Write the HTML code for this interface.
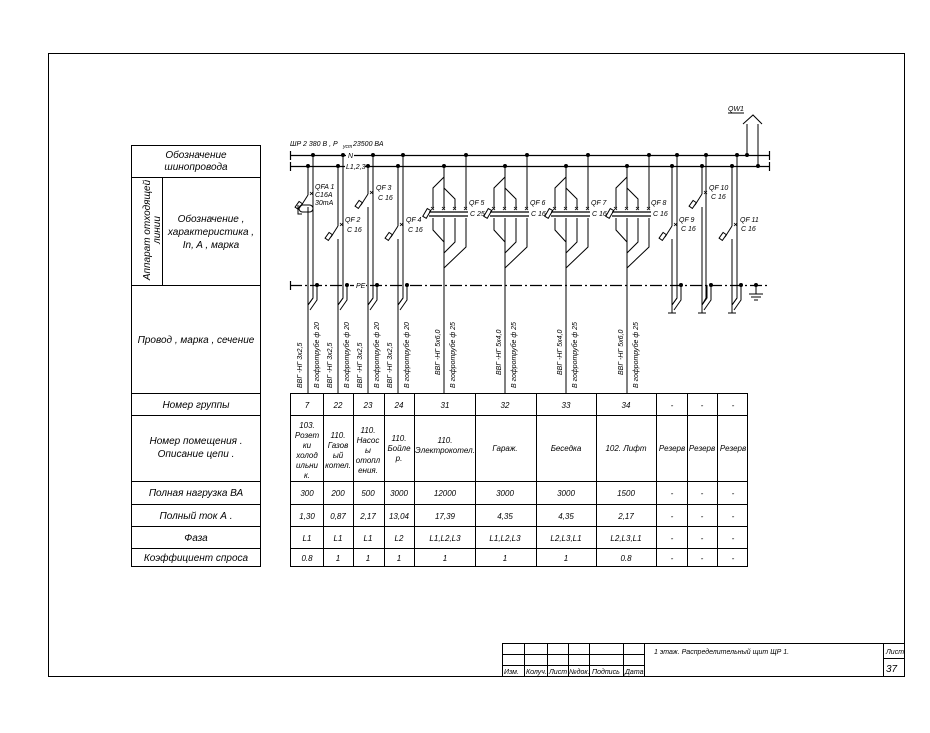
<!DOCTYPE html>
<html><head><meta charset="utf-8"><style>
html,body{margin:0;padding:0;background:#fff;}
svg{display:block;}
text{font-family:"Liberation Sans",sans-serif;font-style:italic;fill:#000;}
</style></head><body>
<svg width="930" height="733" viewBox="0 0 930 733" xmlns="http://www.w3.org/2000/svg">
<defs>
<g id="tp" fill="none" stroke="#000" stroke-width="1">
  <circle cx="0" cy="166" r="1.5" fill="#000"/>
  <circle cx="22" cy="155" r="1.5" fill="#000"/>
  <path d="M0 166V177L-11 188V209M0 188L11 199V209M0 166V209M22 155V209"/>
  <path d="M-11 218V230L0 242M11 218V242L0 253M22 218V247L0 268M0 218V393"/>
  <path d="M-15 212H24M-15 216H24" stroke-width="1.2"/>
  <rect x="-19" y="209" width="4" height="9" transform="rotate(30 -17 213)"/>
  <path d="M-13 207l3 3M-10 207l-3 3M-2 207l3 3M1 207l-3 3M9 207l3 3M12 207l-3 3M20 207l3 3M23 207l-3 3" stroke-width="0.8"/>
</g>
<g id="sp" fill="none" stroke="#000" stroke-width="1">
  <path d="M0 0l-7 11"/>
  <rect x="-11" y="7" width="4" height="7" transform="rotate(35 -9 10)"/>
  <path d="M2 -3l3 3M5 -3l-3 3" stroke-width="0.8"/>
</g>
<g id="pebend" fill="none" stroke="#000" stroke-width="1">
  <circle cx="9" cy="285" r="1.5" fill="#000"/>
  <path d="M5 285V298L0 305M9 285V300L2 310"/>
</g>
</defs>
<!-- frame -->
<rect x="48.5" y="53.5" width="856" height="623" fill="none" stroke="#000"/>

<!-- left table -->
<g fill="none" stroke="#000">
<rect x="131.5" y="145.5" width="129" height="421"/>
<path d="M131 177.5H260M131 285.5H260M131 393.5H260M131 415.5H260M131 481.5H260M131 504.5H260M131 526.5H260M131 548.5H260M162.5 177V285"/>
</g>
<g font-size="10" text-anchor="middle">
<text x="196" y="158">Обозначение</text>
<text x="196" y="170">шинопровода</text>
<text x="211" y="222">Обозначение ,</text>
<text x="211" y="235">характеристика ,</text>
<text x="211" y="248">In,  A , марка</text>
<text transform="translate(150 230) rotate(-90)">Аппарат отходящей</text>
<text transform="translate(160 230) rotate(-90)">линии</text>
<text x="196" y="343">Провод , марка , сечение</text>
<text x="196" y="408">Номер группы</text>
<text x="196" y="444">Номер помещения .</text>
<text x="196" y="457">Описание цепи .</text>
<text x="196" y="496">Полная нагрузка ВА</text>
<text x="196" y="519">Полный ток А .</text>
<text x="196" y="541">Фаза</text>
<text x="196" y="561">Коэффициент спроса</text>
</g>

<!-- right table -->
<g fill="none" stroke="#000">
<rect x="290.5" y="393.5" width="457" height="173"/>
<path d="M290 415.5H748M290 481.5H748M290 504.5H748M290 526.5H748M290 548.5H748"/>
<path d="M323.5 393V567M353.5 393V567M384.5 393V567M414.5 393V567M475.5 393V567M536.5 393V567M596.5 393V567M656.5 393V567M687.5 393V567M717.5 393V567"/>
</g>
<g font-size="8" text-anchor="middle">
<text x="307" y="408">7</text><text x="338" y="408">22</text><text x="368" y="408">23</text><text x="399" y="408">24</text><text x="445" y="408">31</text><text x="505" y="408">32</text><text x="566" y="408">33</text><text x="626" y="408">34</text><text x="672" y="408">-</text><text x="702" y="408">-</text><text x="733" y="408">-</text>
<text x="307" y="428">103.</text><text x="307" y="438">Розет</text><text x="307" y="448">ки</text><text x="307" y="458">холод</text><text x="307" y="468">ильни</text><text x="307" y="478">к.</text>
<text x="338" y="438">110.</text><text x="338" y="448">Газов</text><text x="338" y="458">ый</text><text x="338" y="468">котел.</text>
<text x="368" y="433">110.</text><text x="368" y="443">Насос</text><text x="368" y="453">ы</text><text x="368" y="463">отопл</text><text x="368" y="473">ения.</text>
<text x="399" y="441">110.</text><text x="399" y="451">Бойле</text><text x="399" y="461">р.</text>
<text x="445" y="443">110.</text><text x="445" y="453">Электрокотел.</text>
<text x="505" y="451">Гараж.</text><text x="566" y="451">Беседка</text><text x="626" y="451">102.  Лифт</text>
<text x="672" y="451">Резерв</text><text x="702" y="451">Резерв</text><text x="733" y="451">Резерв</text>
<text x="307" y="496">300</text><text x="338" y="496">200</text><text x="368" y="496">500</text><text x="399" y="496">3000</text><text x="445" y="496">12000</text><text x="505" y="496">3000</text><text x="566" y="496">3000</text><text x="626" y="496">1500</text><text x="672" y="496">-</text><text x="702" y="496">-</text><text x="733" y="496">-</text>
<text x="307" y="519">1,30</text><text x="338" y="519">0,87</text><text x="368" y="519">2,17</text><text x="399" y="519">13,04</text><text x="445" y="519">17,39</text><text x="505" y="519">4,35</text><text x="566" y="519">4,35</text><text x="626" y="519">2,17</text><text x="672" y="519">-</text><text x="702" y="519">-</text><text x="733" y="519">-</text>
<text x="307" y="541">L1</text><text x="338" y="541">L1</text><text x="368" y="541">L1</text><text x="399" y="541">L2</text><text x="445" y="541">L1,L2,L3</text><text x="505" y="541">L1,L2,L3</text><text x="566" y="541">L2,L3,L1</text><text x="626" y="541">L2,L3,L1</text><text x="672" y="541">-</text><text x="702" y="541">-</text><text x="733" y="541">-</text>
<text x="307" y="561">0.8</text><text x="338" y="561">1</text><text x="368" y="561">1</text><text x="399" y="561">1</text><text x="445" y="561">1</text><text x="505" y="561">1</text><text x="566" y="561">1</text><text x="626" y="561">0.8</text><text x="672" y="561">-</text><text x="702" y="561">-</text><text x="733" y="561">-</text>
</g>

<!-- busbars -->
<g fill="none" stroke="#000" stroke-width="1.2">
<path d="M290 155.5H770M290 166.5H770M290.5 151V160M290.5 162V171M769.5 151V160M769.5 162V171"/>
<path d="M290 285.5H770" stroke-dasharray="12 3 2 3"/>
<path d="M290.5 281V290"/>
</g>
<rect x="346" y="151" width="8" height="8" fill="#fff"/>
<rect x="345" y="162" width="20" height="8" fill="#fff"/>
<rect x="354" y="281" width="12" height="8" fill="#fff"/>
<g font-size="7">
<text x="290" y="146">ШР 2  380 В ,  P</text><text x="343" y="148" font-size="5">уст</text><text x="353" y="146">23500 ВА</text>
<text x="348" y="158">N</text>
<text x="346" y="169">L1,2,3</text>
<text x="356" y="288">PE</text>
</g>

<!-- single-phase circuits -->
<g fill="none" stroke="#000" stroke-width="1">
<circle cx="308" cy="166" r="1.5" fill="#000"/><circle cx="313" cy="155" r="1.5" fill="#000"/>
<path d="M308 166V195M308 207V393M313 155V298L308 305"/>
<rect x="299" y="205" width="14" height="7" rx="3.5"/>
<path d="M298 205V214H302"/>
<circle cx="338" cy="166" r="1.5" fill="#000"/><circle cx="343" cy="155" r="1.5" fill="#000"/>
<path d="M338 166V226M338 239V393M343 155V298L338 305"/>
<circle cx="368" cy="166" r="1.5" fill="#000"/><circle cx="373" cy="155" r="1.5" fill="#000"/>
<path d="M368 166V194M368 207V393M373 155V298L368 305"/>
<circle cx="398" cy="166" r="1.5" fill="#000"/><circle cx="403" cy="155" r="1.5" fill="#000"/>
<path d="M398 166V226M398 239V393M403 155V298L398 305"/>
</g>
<use href="#sp" x="308" y="195"/><use href="#sp" x="338" y="226"/><use href="#sp" x="368" y="194"/><use href="#sp" x="398" y="226"/>
<use href="#pebend" x="308"/><use href="#pebend" x="338"/><use href="#pebend" x="368"/><use href="#pebend" x="398"/>

<!-- three-phase -->
<use href="#tp" x="444"/><use href="#tp" x="505"/><use href="#tp" x="566"/><use href="#tp" x="627"/>

<!-- reserve circuits -->
<g fill="none" stroke="#000" stroke-width="1">
<circle cx="672" cy="166" r="1.5" fill="#000"/><circle cx="677" cy="155" r="1.5" fill="#000"/>
<path d="M672 166V226M672 239V313M668 313H676M677 155V298L672 305"/>
<circle cx="702" cy="166" r="1.5" fill="#000"/><circle cx="706" cy="155" r="1.5" fill="#000"/>
<path d="M702 166V194M702 207V313M698 313H706M706 155V298L702 305"/>
<circle cx="732" cy="166" r="1.5" fill="#000"/><circle cx="737" cy="155" r="1.5" fill="#000"/>
<path d="M732 166V226M732 239V313M728 313H736M737 155V298L732 305"/>
<circle cx="747" cy="155" r="1.5" fill="#000"/><circle cx="758" cy="166" r="1.5" fill="#000"/>
<path d="M747 155V124M758 166V124M743 124L753 115L762 124M728 113H744"/>
<circle cx="756" cy="285" r="1.5" fill="#000"/>
<path d="M756 285V294M749 294H763M751 297H761M754 300H758"/>
</g>
<use href="#sp" x="672" y="226"/><use href="#sp" x="702" y="194"/><use href="#sp" x="732" y="226"/>
<use href="#pebend" x="672"/><use href="#pebend" x="702"/><use href="#pebend" x="732"/>

<g font-size="7">
<text x="315" y="189">QFA 1</text><text x="315" y="197">C16A</text><text x="315" y="205">30mA</text>
<text x="345" y="222">QF 2</text><text x="347" y="232">C 16</text>
<text x="376" y="190">QF 3</text><text x="378" y="200">C 16</text>
<text x="406" y="222">QF 4</text><text x="408" y="232">C 16</text>
<text x="469" y="205">QF 5</text><text x="470" y="216">C 25</text>
<text x="530" y="205">QF 6</text><text x="531" y="216">C 16</text>
<text x="591" y="205">QF 7</text><text x="592" y="216">C 16</text>
<text x="651" y="205">QF 8</text><text x="653" y="216">C 16</text>
<text x="679" y="222">QF 9</text><text x="681" y="231">C 16</text>
<text x="709" y="190">QF 10</text><text x="711" y="199">C 16</text>
<text x="740" y="222">QF 11</text><text x="741" y="231">C 16</text>
<text x="728" y="111">QW1</text>
</g>

<!-- cable labels -->
<g font-size="7">
<text transform="translate(302 388) rotate(-90)">ВВГ -НГ  3х2,5</text>
<text transform="translate(319 388) rotate(-90)">В гофротрубе  ф  20</text>
<text transform="translate(332 388) rotate(-90)">ВВГ -НГ  3х2,5</text>
<text transform="translate(349 388) rotate(-90)">В гофротрубе  ф  20</text>
<text transform="translate(362 388) rotate(-90)">ВВГ -НГ  3х2,5</text>
<text transform="translate(379 388) rotate(-90)">В гофротрубе  ф  20</text>
<text transform="translate(392 388) rotate(-90)">ВВГ -НГ  3х2,5</text>
<text transform="translate(409 388) rotate(-90)">В гофротрубе  ф  20</text>
<text transform="translate(440 375) rotate(-90)">ВВГ -НГ  5х6,0</text>
<text transform="translate(455 388) rotate(-90)">В гофротрубе  ф  25</text>
<text transform="translate(501 375) rotate(-90)">ВВГ -НГ  5х4,0</text>
<text transform="translate(516 388) rotate(-90)">В гофротрубе  ф  25</text>
<text transform="translate(562 375) rotate(-90)">ВВГ -НГ  5х4,0</text>
<text transform="translate(577 388) rotate(-90)">В гофротрубе  ф  25</text>
<text transform="translate(623 375) rotate(-90)">ВВГ -НГ  5х6,0</text>
<text transform="translate(638 388) rotate(-90)">В гофротрубе  ф  25</text>
</g>

<!-- title block -->
<g fill="none" stroke="#000">
<path d="M502.5 643.5H904M502 654.5H644M502 665.5H644M883 658.5H904"/>
<path d="M502.5 643V677M524.5 643V677M547.5 643V677M568.5 643V677M589.5 643V677M623.5 643V677M644.5 643V677M883.5 643V677"/>
</g>
<g font-size="7">
<text x="504" y="674">Изм.</text><text x="526" y="674">Колуч.</text><text x="549" y="674">Лист</text><text x="569" y="674">№док.</text><text x="592" y="674">Подпись</text><text x="625" y="674">Дата</text>
<text x="654" y="654">1  этаж.  Распределительный  щит  ЩР  1.</text>
<text x="886" y="654">Лист</text>
<text x="886" y="672" font-size="10">37</text>
</g>
</svg>
</body></html>
